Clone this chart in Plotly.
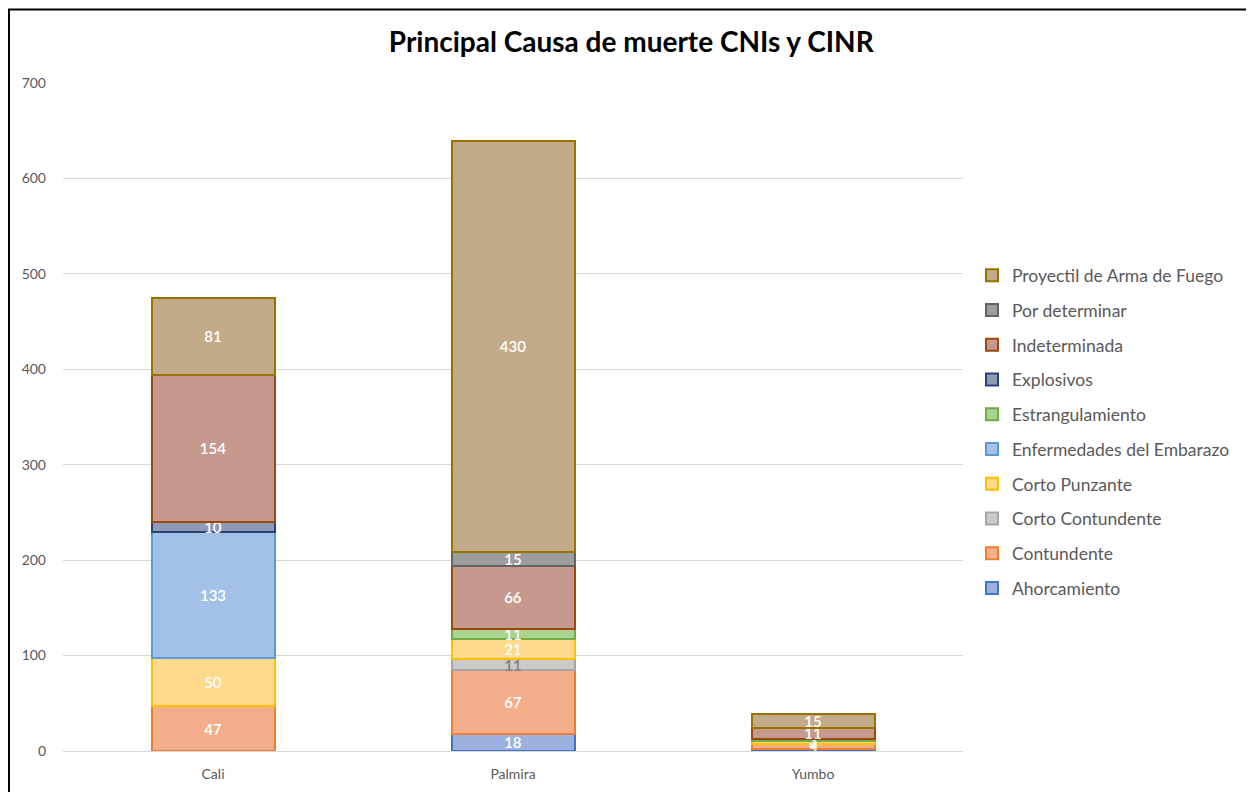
import plotly.graph_objects as go

# datos
municipios = ["Cali", "Palmira", "Yumbo"]

causas = [
    "Ahorcamiento",
    "Contundente",
    "Corto Contundente",
    "Corto Punzante",
    "Enfermedades del Embarazo",
    "Estrangulamiento",
    "Explosivos",
    "Indeterminada",
    "Por determinar",
    "Proyectil de Arma de Fuego",
]

ahorcamiento = [None, 18, 2]
contundente = [47, 67, 5]
corto_contundente = [None, 11, None]
corto_punzante = [50, 21, 3]
enfermedades_embarazo = [133, None, None]
estrangulamiento = [None, 11, 3]
explosivos = [10, None, None]
indeterminada = [154, 66, 11]
por_determinar = [None, 15, None]
proyectil = [81, 430, 15]

series = [ahorcamiento, contundente, corto_contundente, corto_punzante,
          enfermedades_embarazo, estrangulamiento, explosivos,
          indeterminada, por_determinar, proyectil]

# relleno, borde, color de etiqueta
estilos = [
    ("#9DB1DE", "#4472C4", "white"),
    ("#F5AE8C", "#ED7D31", "white"),
    ("#CACACA", "#A5A5A5", "#7F7F7F"),
    ("#FFD98C", "#FFC000", "white"),
    ("#A3C0E6", "#5B9BD5", "white"),
    ("#AAD38F", "#70AD47", "white"),
    ("#8F9BB6", "#264478", "white"),
    ("#C6998F", "#9E480E", "white"),
    ("#9C9C9C", "#636363", "white"),
    ("#C3AA88", "#997300", "white"),
]

fig = go.Figure()
for i, (nombre, valores, (relleno, borde, color_txt)) in enumerate(zip(causas, series, estilos)):
    fig.add_trace(go.Bar(
        x=municipios,
        y=valores,
        name=nombre,
        legendgroup=nombre,
        legendrank=100 - i,
        text=["" if v is None else str(v) for v in valores],
        textposition="inside",
        insidetextanchor="middle",
        textangle=0,
        textfont=dict(color=color_txt, size=15, family="Lato", weight=600),
        marker=dict(color=relleno, line=dict(color=borde, width=2)),
    ))

# la pagina tiene 8 px de margen en el body
fig.update_layout(
    barmode="stack",
    bargap=0.59,
    width=1254,
    height=792,
    paper_bgcolor="white",
    plot_bgcolor="white",
    margin=dict(l=55, r=299, t=75, b=49),
    title=dict(
        text="<b>Principal Causa de muerte CNIs y CINR</b>",
        x=0.497, xanchor="center", y=0.957, yanchor="middle",
        font=dict(family="Lato", size=28, color="black"),
    ),
    font=dict(family="Lato", color="#595959"),
    uniformtext=dict(minsize=15, mode="show"),
    showlegend=True,
    legend=dict(
        traceorder="grouped",
        tracegroupgap=9,
        x=1.01, xanchor="left",
        y=0.739, yanchor="top",
        font=dict(size=17.5, color="#595959"),
        bgcolor="rgba(0,0,0,0)",
    ),
    shapes=[dict(
        type="rect", xref="paper", yref="paper",
        x0=-0.06, x1=1.32, y0=-0.09, y1=1.11,
        line=dict(color="black", width=2),
    )],
)

fig.update_yaxes(
    range=[0, 700], dtick=100,
    showgrid=True, gridcolor="#D9D9D9", gridwidth=1,
    zeroline=False, showline=False,
    ticks="", ticklabelstandoff=16,
    tickfont=dict(size=14, color="#595959"),
)
fig.update_xaxes(
    showline=True, linecolor="#D9D9D9", linewidth=1,
    ticks="", ticklabelstandoff=10,
    tickfont=dict(size=14, color="#595959"),
)

fig.write_html("out.html")
